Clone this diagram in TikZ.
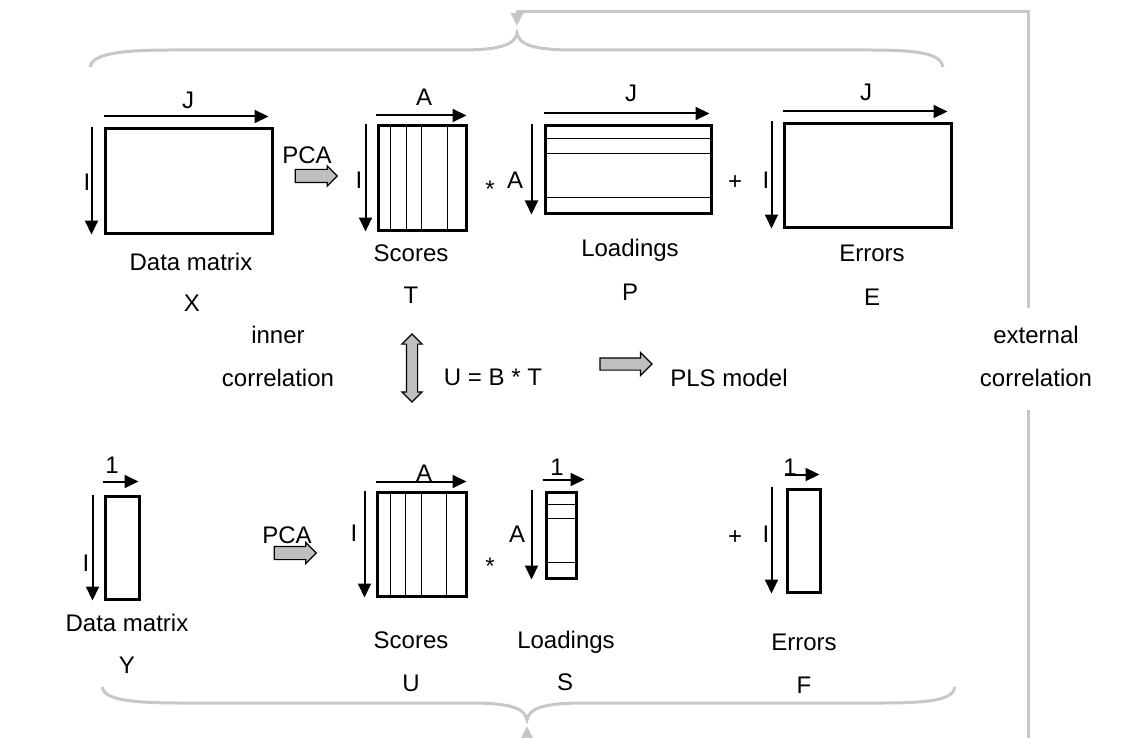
\documentclass[tikz,border=0pt]{standalone}
\usepackage{fontspec}
\setmainfont{Liberation Sans}
\usetikzlibrary{arrows.meta,shapes.arrows,positioning}

\begin{document}
\begin{tikzpicture}[x=1pt,y=-1pt,
  matrixbox/.style={rectangle, draw=black, line width=3pt, inner sep=0pt},
  thinline/.style={line width=1.3pt},
  dimarrow/.style={line width=2pt, -{Triangle[length=14pt,width=13pt]}},
  txt/.style={inner sep=0pt, text height=17pt, text depth=0pt, font=\fontsize{24}{28}\selectfont},
  dimtxt/.style={txt},
  optxt/.style={inner sep=0pt, text height=17pt, text depth=0pt, font=\fontsize{24}{28}\selectfont},
  grayarrow/.style={single arrow, draw=black, line width=1.2pt, fill=black!25, inner xsep=0pt, inner ysep=6pt, single arrow head extend=3.5pt, single arrow tip angle=90},
  extline/.style={draw=black!22, line width=3pt},
]
\useasboundingbox (0,0) rectangle (1145,738);
\clip (0,0) rectangle (1145,738);

% X block (top row)
\node (X) [matrixbox, minimum width=167, minimum height=104] at (188.5,181) {};
\node (T) [matrixbox, minimum width=88, minimum height=104] at (422,178) {};
\node (P) [matrixbox, minimum width=166, minimum height=87] at (628,169.5) {};
\node (E) [matrixbox, minimum width=167, minimum height=103] at (867.5,175.5) {};

\draw [thinline] ([xshift=14]T.north west) -- ([xshift=14]T.south west);
\draw [thinline] ([xshift=30]T.north west) -- ([xshift=30]T.south west);
\draw [thinline] ([xshift=45]T.north west) -- ([xshift=45]T.south west);
\draw [thinline] ([xshift=71]T.north west) -- ([xshift=71]T.south west);
\draw [thinline] ([yshift=-14]P.north west) -- ([yshift=-14]P.north east);
\draw [thinline] ([yshift=-29]P.north west) -- ([yshift=-29]P.north east);
\draw [thinline] ([yshift=-73]P.north west) -- ([yshift=-73]P.north east);

\draw [dimarrow] ([yshift=11]X.north west) -- ([yshift=11,xshift=-5]X.north east);
\draw [dimarrow] ([xshift=-12]X.north west) -- ([xshift=-12]X.south west);
\draw [dimarrow] ([yshift=9,xshift=-1]T.north west) -- ([yshift=9,xshift=-1]T.north east);
\draw [dimarrow] ([xshift=-11]T.north west) -- ([xshift=-11]T.south west);
\draw [dimarrow] ([yshift=11]P.north west) -- ([yshift=11,xshift=-3]P.north east);
\draw [dimarrow] ([xshift=-12]P.north west) -- ([xshift=-12]P.south west);
\draw [dimarrow] ([yshift=11]E.north west) -- ([yshift=11,xshift=-5]E.north east);
\draw [dimarrow] ([xshift=-11,yshift=1]E.north west) -- ([xshift=-11]E.south west);

\node (Xj) [dimtxt] at (188,100) {J};
\node (Xi) [dimtxt] at (87,182) {I};
\node (Ta) [dimtxt] at (424,97) {A};
\node (Ti) [dimtxt] at (359,180) {I};
\node (Pj) [dimtxt] at (631,93) {J};
\node (Pa) [dimtxt] at (515,180) {A};
\node (Ej) [dimtxt] at (866,92) {J};
\node (Ei) [dimtxt] at (766,180) {I};
\node (times1) [optxt] at (490,188.5) {*};
\node (plus1) [optxt] at (735,181) {+};

\node (Xname) [txt] at (191,262) {Data matrix};
\node (Xsym) [txt] at (192,303) {X};
\node (Tname) [txt] at (411,253) {Scores};
\node (Tsym) [txt] at (411,295) {T};
\node (Pname) [txt] at (630,248) {Loadings};
\node (Psym) [txt] at (630,292) {P};
\node (Ename) [txt] at (872,253) {Errors};
\node (Esym) [txt] at (872,297) {E};

\node (pcatop) [grayarrow, minimum height=42] at (313,176) {};
\node (pcatoptxt) [txt] at (307,155) {PCA};

% middle
\node (inner1) [txt] at (278,335) {inner};
\node (inner2) [txt] at (278,378) {correlation};
\node (innerarrow) [double arrow, draw=black, line width=1.2pt, fill=black!25, inner xsep=0pt, inner ysep=5pt, double arrow head extend=4.5pt, double arrow tip angle=90, rotate=90, minimum height=68] at (412,368) {};
\node (ubt) [txt] at (493,377) {U = B * T};
\node (plsarrow) [grayarrow, minimum height=52, inner ysep=5.5pt, single arrow head extend=5.5pt] at (623,364) {};
\node (pls) [txt] at (729,378) {PLS model};
\node (ext1) [txt] at (1036,335) {external};
\node (ext2) [txt] at (1036,378) {correlation};

% Y block (bottom row)
\node (Y) [matrixbox, minimum width=34, minimum height=103] at (122,547.5) {};
\node (U) [matrixbox, minimum width=89, minimum height=104] at (421.5,544) {};
\node (S) [matrixbox, minimum width=30, minimum height=86] at (561,535) {};
\node (F) [matrixbox, minimum width=33, minimum height=103] at (803.5,540.5) {};

\draw [thinline] ([xshift=15]U.north west) -- ([xshift=15]U.south west);
\draw [thinline] ([xshift=30]U.north west) -- ([xshift=30]U.south west);
\draw [thinline] ([xshift=46]U.north west) -- ([xshift=46]U.south west);
\draw [thinline] ([xshift=71]U.north west) -- ([xshift=71]U.south west);
\draw [thinline] ([yshift=-14]S.north west) -- ([yshift=-14]S.north east);
\draw [thinline] ([yshift=-28]S.north west) -- ([yshift=-28]S.north east);
\draw [thinline] ([yshift=-72]S.north west) -- ([yshift=-72]S.north east);

\draw [dimarrow] ([yshift=13,xshift=-1]Y.north west) -- ([yshift=13,xshift=-2]Y.north east);
\draw [dimarrow] ([xshift=-11]Y.north west) -- ([xshift=-11]Y.south west);
\draw [dimarrow] ([yshift=9]U.north west) -- ([yshift=9,xshift=-1]U.north east);
\draw [dimarrow] ([xshift=-11]U.north west) -- ([xshift=-11]U.south west);
\draw [dimarrow] ([yshift=11,xshift=-2]S.north west) -- ([yshift=11,xshift=7]S.north east);
\draw [dimarrow] ([xshift=-13,yshift=1]S.north west) -- ([xshift=-13]S.south west);
\draw [dimarrow] ([yshift=13,xshift=-1]F.north west) -- ([yshift=13,xshift=-2]F.north east);
\draw [dimarrow] ([xshift=-14,yshift=1]F.north west) -- ([xshift=-14]F.south west);

\node (Y1) [dimtxt] at (112,465) {1};
\node (Yi) [dimtxt] at (86,563) {I};
\node (Ua) [dimtxt] at (424,473) {A};
\node (Ui) [dimtxt] at (354,533) {I};
\node (S1) [dimtxt] at (557,467) {1};
\node (Sa) [dimtxt] at (517,534) {A};
\node (F1) [dimtxt] at (790,467) {1};
\node (Fi) [dimtxt] at (766,534) {I};
\node (times2) [optxt] at (490,565.5) {*};
\node (plus2) [optxt] at (735,536) {+};

\node (Yname) [txt] at (127,623) {Data matrix};
\node (Ysym) [txt] at (127,665) {Y};
\node (Uname) [txt] at (411,640) {Scores};
\node (Usym) [txt] at (411,683) {U};
\node (Sname) [txt] at (566,640) {Loadings};
\node (Ssym) [txt] at (565,682) {S};
\node (Fname) [txt] at (804,642) {Errors};
\node (Fsym) [txt] at (804,685) {F};

\node (pcabot) [grayarrow, minimum height=42, single arrow head extend=4pt] at (292,553) {};
\node (pcabottxt) [txt] at (287,535) {PCA};

% braces and external correlation line
\coordinate (topcusp) at (517,26);
\coordinate (topright) at (1028,12);
\coordinate (extup) at (1028,308);
\coordinate (extdown) at (1028,410);
\coordinate (botright) at (1028,760);
\coordinate (botcusp) at (527,726);

\draw [extline] (90,67) .. controls (92,54) and (120,50) .. (170,50) -- (460,50)
  .. controls (500,50) and (515,45) .. (517,33) .. controls (519,45) and (534,50) .. (574,50)
  -- (870,50) .. controls (920,50) and (941,54) .. (943,67);
\draw [extline] (102,687) .. controls (104,700) and (132,703) .. (182,703) -- (470,703)
  .. controls (510,703) and (525,708) .. (527,720) .. controls (529,708) and (544,703) .. (584,703)
  -- (880,703) .. controls (930,703) and (953,700) .. (955,687);

\draw [extline, -{Triangle[length=13pt,width=12pt]}] (extup) -- (topright) -| (topcusp);
\draw [extline, -{Triangle[length=13pt,width=12pt]}] (extdown) -- (botright) -| (botcusp);

\end{tikzpicture}
\end{document}
